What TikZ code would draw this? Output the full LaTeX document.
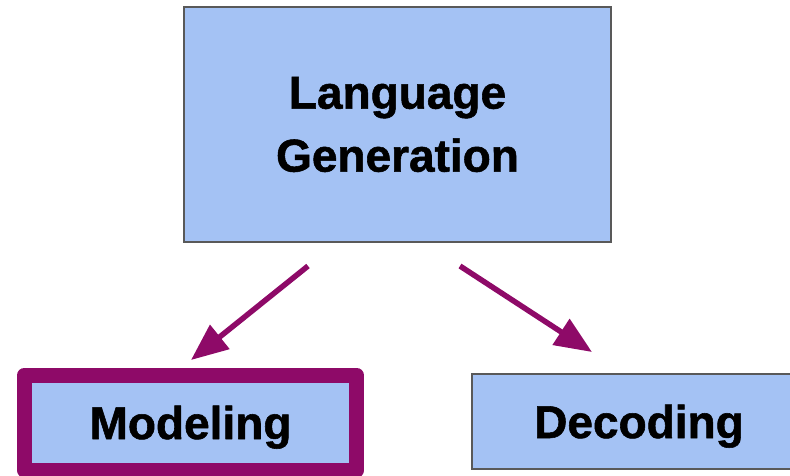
\documentclass[tikz,border=0pt]{standalone}
\usepackage{fontspec}
\setmainfont[BoldFeatures={FakeBold=1.2}]{Liberation Sans}
\usetikzlibrary{arrows.meta}
\definecolor{boxfill}{HTML}{A4C2F4}
\definecolor{boxline}{HTML}{595959}
\definecolor{plum}{RGB}{142,10,104}
\begin{document}
\begin{tikzpicture}[x=1pt,y=-1pt,
  box/.style={draw=boxline, line width=2pt, fill=boxfill, inner sep=0pt,
    font=\bfseries\fontsize{46}{63}\selectfont, align=center},
  lowbox/.style={box, minimum height=95pt, text height=33pt, text depth=0pt},
  hilite/.style={draw=plum, line width=15pt, line join=round},
  conn/.style={draw=plum, line width=5.5pt, -{Triangle[length=37pt,width=30pt]}}]
\useasboundingbox (0,0) rectangle (790,475);
\clip (0,0) rectangle (790,475);
\node[box, minimum width=427pt, minimum height=235pt] (lg) at (397.5,124.5) {Language\\Generation};
\node[lowbox, hilite, minimum width=332pt] (mod) at (190.5,422.5) {Modeling};
\node[lowbox, minimum width=334pt] (dec) at (639,421.5) {Decoding};
\coordinate (a1s) at (308,266);
\coordinate (a1e) at (191,360);
\coordinate (a2s) at (460,266);
\coordinate (a2e) at (592,352);
\draw[conn] (a1s) -- (a1e);
\draw[conn] (a2s) -- (a2e);
\end{tikzpicture}
\end{document}
